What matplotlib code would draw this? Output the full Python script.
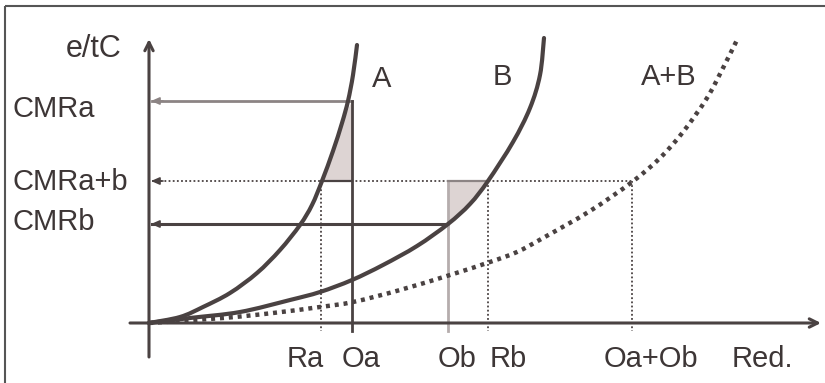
import numpy as np
import matplotlib
matplotlib.use("Agg")
import matplotlib.pyplot as plt
from matplotlib.patches import Polygon, PathPatch
from matplotlib.path import Path

plt.rcParams['font.family'] = ['Liberation Sans', 'DejaVu Sans']

# ---- data (units relative to origin) ----
curve_a_x = [0, 31, 54, 81, 108, 131, 151, 163, 173, 184, 193, 199, 204, 208]
curve_a_y = [0, 6, 16, 30, 50, 73, 98, 118, 142, 172, 200, 222, 248, 278]

curve_b_x = [0, 41, 91, 141, 171, 203, 234, 268, 299, 321, 339, 364, 381, 391, 395]
curve_b_y = [0, 5, 11, 23, 31, 43, 58, 77, 99, 119, 142, 181, 215, 248, 285]

curve_ab_x = [0, 74, 124, 171, 204, 251, 301, 341, 368, 394, 441, 483, 511, 534, 558, 574, 588]
curve_ab_y = [0, 5, 10, 16, 21, 33, 48, 61, 71, 85, 112, 141, 165, 191, 225, 255, 283]

x_ticks = {"Ra": 172, "Oa": 203, "Ob": 299, "Rb": 339, "Oa+Ob": 483}
y_levels = {"CMRa": 222, "CMRa+b": 142, "CMRb": 99}
curve_names = ["A", "B", "A+B"]
y_axis_label = "e/tC"
x_axis_label = "Red."

# ---- style ----
DARK = "#4a4242"
MID = "#8c8484"
LIGHT = "#b5adad"
FILL = "#ddd4d3"
FS = 21


def smooth_path(xs, ys):
    """Catmull-Rom through the read points, drawn as cubic Bezier segments."""
    p = np.column_stack([xs, ys]).astype(float)
    n = len(p)
    verts = [p[0]]
    codes = [Path.MOVETO]
    for i in range(n - 1):
        p0 = p[i - 1] if i > 0 else p[i]
        p1, p2 = p[i], p[i + 1]
        p3 = p[i + 2] if i + 2 < n else p[i + 1]
        c1 = p1 + (p2 - p0) / 6.0
        c2 = p2 - (p3 - p1) / 6.0
        verts += [c1, c2, p2]
        codes += [Path.CURVE4] * 3
    return Path(verts, codes)


fig = plt.figure(figsize=(8.25, 3.83), dpi=100)
ax = fig.add_axes([0, 0, 1, 1])
ax.set_xlim(-149, 676)
ax.set_ylim(-60, 323)
ax.axis("off")

# frame (top and left)
ax.plot([-144, 676], [317, 317], color="#555", lw=1.5, solid_capstyle="butt")
ax.plot([-144, -144], [317, -60], color="#555", lw=1.5, solid_capstyle="butt")

Ra, Oa, Ob, Rb, OaOb = (x_ticks[k] for k in ["Ra", "Oa", "Ob", "Rb", "Oa+Ob"])
CMRa, CMRab, CMRb = (y_levels[k] for k in ["CMRa", "CMRa+b", "CMRb"])

# shaded triangles
ca_x, ca_y = np.array(curve_a_x), np.array(curve_a_y)
sel = (ca_y > CMRab) & (ca_y < CMRa)
poly_a = [(Ra, CMRab), (Oa, CMRab), (Oa, CMRa)] + \
         [(x, y) for x, y in zip(ca_x[sel][::-1], ca_y[sel][::-1])]
ax.add_patch(Polygon(poly_a, closed=True, facecolor=FILL, edgecolor="none", zorder=1))
cb_x, cb_y = np.array(curve_b_x), np.array(curve_b_y)
sel = (cb_y > CMRb) & (cb_y < CMRab)
poly_b = [(Ob, CMRb)] + [(x, y) for x, y in zip(cb_x[sel], cb_y[sel])] + \
         [(Rb, CMRab), (Ob, CMRab)]
ax.add_patch(Polygon(poly_b, closed=True, facecolor=FILL, edgecolor="none", zorder=1))

# dotted CMRa+b guide and verticals
ax.plot([3, OaOb], [CMRab, CMRab], color=DARK, lw=1.3, ls=(0, (1, 1.3)), zorder=2)
for xv in [Ra, Rb, OaOb]:
    ax.plot([xv, xv], [CMRab, -8], color=DARK, lw=1.3, ls=(0, (1, 1.3)), zorder=2)
ax.plot([Ra, Oa], [CMRab, CMRab], color=DARK, lw=1.6, zorder=3)
ax.plot([Ob, Rb], [CMRab, CMRab], color=MID, lw=1.6, zorder=3)

# CMRa lines
ax.plot([3, Oa], [CMRa, CMRa], color=MID, lw=2.0, zorder=2)
ax.plot([Oa, Oa], [CMRa, -8], color=DARK, lw=2.0, zorder=2)
# CMRb lines
ax.plot([3, Ob], [CMRb, CMRb], color=DARK, lw=2.2, zorder=2)
ax.plot([Ob, Ob], [CMRab, -8], color=LIGHT, lw=2.0, zorder=2)

# small arrowheads at the y axis
for lvl, col in [(CMRa, MID), (CMRab, DARK), (CMRb, DARK)]:
    ax.annotate("", xy=(2, lvl), xytext=(14, lvl),
                arrowprops=dict(arrowstyle="-|>,head_length=0.5,head_width=0.22",
                                color=col, lw=1.2, shrinkA=0, shrinkB=0), zorder=4)

# axes with arrows
ax.annotate("", xy=(0, 284), xytext=(0, -34),
            arrowprops=dict(arrowstyle="->,head_length=0.6,head_width=0.3",
                            color=DARK, lw=2.2, shrinkA=0, shrinkB=0), zorder=5)
ax.annotate("", xy=(672, 0), xytext=(-19, 0),
            arrowprops=dict(arrowstyle="->,head_length=0.6,head_width=0.3",
                            color=DARK, lw=2.2, shrinkA=0, shrinkB=0), zorder=5)

# curves
ax.add_patch(PathPatch(smooth_path(curve_a_x, curve_a_y), facecolor="none",
                       edgecolor=DARK, lw=3.0, capstyle="round", zorder=6))
ax.add_patch(PathPatch(smooth_path(curve_b_x, curve_b_y), facecolor="none",
                       edgecolor=DARK, lw=3.0, capstyle="round", zorder=6))
ax.add_patch(PathPatch(smooth_path(curve_ab_x, curve_ab_y), facecolor="none",
                       edgecolor=DARK, lw=3.2, ls=(0, (0.9, 1.1)),
                       capstyle="butt", zorder=6))

# texts
TC = "#3d3636"
ax.text(-55, 274, y_axis_label, fontsize=22, color=TC, ha="center", va="center")
ax.text(-136, 214, "CMRa", fontsize=FS, color=TC, ha="left", va="center")
ax.text(-136, 141, "CMRa+b", fontsize=FS, color=TC, ha="left", va="center")
ax.text(-136, 101, "CMRb", fontsize=FS, color=TC, ha="left", va="center")
for name, pos in zip(curve_names, [(233, 244), (353, 246), (520, 246)]):
    ax.text(pos[0], pos[1], name, fontsize=FS, color=TC, ha="center", va="center")
label_x = {"Ra": 156, "Oa": 212, "Ob": 308, "Rb": 359, "Oa+Ob": 502}
for k in x_ticks:
    ax.text(label_x[k], -36, k, fontsize=FS, color=TC, ha="center", va="center")
ax.text(613, -36, x_axis_label, fontsize=FS, color=TC, ha="center", va="center")

fig.savefig("out.png", dpi=100)
